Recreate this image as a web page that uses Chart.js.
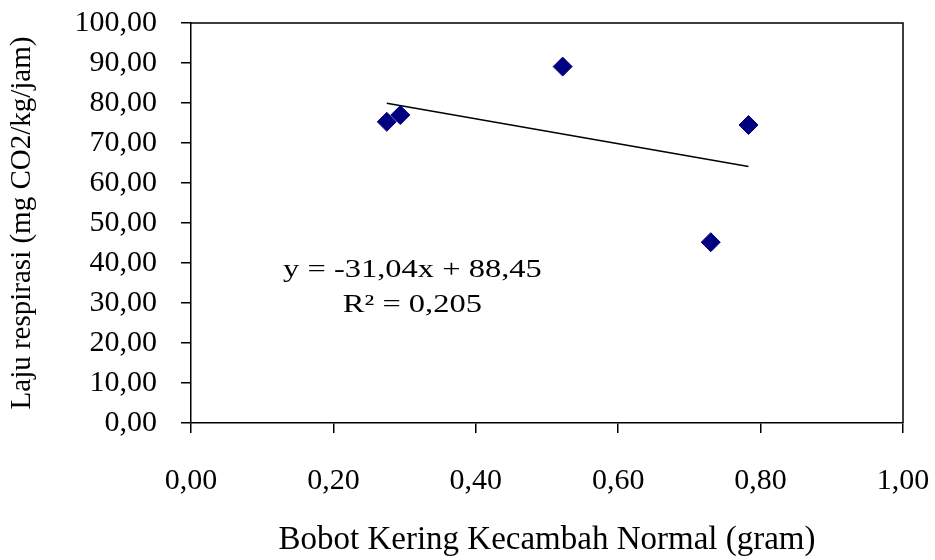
<!DOCTYPE html>
<html>
<head>
<meta charset="utf-8">
<script src="https://cdn.jsdelivr.net/npm/chart.js@4.4.0/dist/chart.umd.min.js"></script>
<style>
  html, body { margin: 0; padding: 0; background: #fff; }
</style>
</head>
<body>
<canvas id="scatterChart" width="935" height="560"></canvas>
<script>
// data
const bobotKering = [0.275, 0.294, 0.522, 0.730, 0.783];
const lajuRespirasi = [75.3, 77.0, 89.1, 45.2, 74.5];
const trendSlope = -31.04;
const trendIntercept = 88.45;
const equationText = ['y = -31,04x + 88,45', 'R\u00B2 = 0,205'];
const xTicks = [0, 0.2, 0.4, 0.6, 0.8, 1.0];
const yTicks = [0, 10, 20, 30, 40, 50, 60, 70, 80, 90, 100];

const fmt = v => v.toFixed(2).replace('.', ',');
const serif = "'Liberation Serif', 'Times New Roman', serif";

const minX = Math.min(...bobotKering);
const maxX = Math.max(...bobotKering);
const trendPoints = [minX, maxX].map(x => ({x: x, y: trendSlope * x + trendIntercept}));

// plot area border + trend equation
const boxPlugin = {
    id: 'boxPlugin',
    afterDraw(chart) {
        const {ctx, chartArea: a, scales} = chart;
        ctx.save();
        ctx.strokeStyle = '#000';
        ctx.lineWidth = 1.5;
        ctx.beginPath();
        ctx.moveTo(a.left, a.top);
        ctx.lineTo(a.right, a.top);
        ctx.lineTo(a.right, a.bottom);
        ctx.stroke();

        // the equation text in the original is wide, so stretch it a bit
        ctx.fillStyle = '#000';
        ctx.font = "25px " + serif;
        ctx.textAlign = 'center';
        ctx.textBaseline = 'middle';
        const cx = scales.x.getPixelForValue(0.311);
        const stretch = 1.3;
        [38.2, 29.3].forEach((v, i) => {
            ctx.save();
            ctx.translate(cx, scales.y.getPixelForValue(v));
            ctx.scale(stretch, 1);
            ctx.fillText(equationText[i], 0, 0);
            ctx.restore();
        });
        ctx.restore();
    }
};

new Chart(document.getElementById('scatterChart'), {
    type: 'scatter',
    data: {
        datasets: [{
            label: 'Laju respirasi',
            data: bobotKering.map((x, i) => ({x: x, y: lajuRespirasi[i]})),
            pointStyle: 'rectRot',
            pointRadius: 9.5,
            pointBackgroundColor: '#000080',
            pointBorderColor: '#000080',
            pointBorderWidth: 1,
            order: 1
        }, {
            type: 'line',
            label: 'Linear',
            data: trendPoints,
            borderColor: '#000',
            borderWidth: 1.5,
            pointRadius: 0,
            fill: false,
            order: 2
        }]
    },
    options: {
        responsive: false,
        animation: false,
        devicePixelRatio: 1,
        layout: { padding: { left: 0, right: 32, top: 23, bottom: 0 } },
        plugins: { legend: { display: false }, tooltip: { enabled: false } },
        scales: {
            x: {
                type: 'linear',
                min: 0, max: 1,
                afterFit: s => { s.height = 137; s.paddingLeft = 0; s.paddingRight = 0; },
                afterBuildTicks: s => { s.ticks = xTicks.map(v => ({value: v})); },
                grid: { drawOnChartArea: false, tickLength: 10, color: '#000', lineWidth: 1.5 },
                border: { color: '#000', width: 1.5 },
                ticks: { color: '#000', padding: 30, font: { family: serif, size: 30 }, callback: v => fmt(v), maxRotation: 0 },
                title: { display: true, text: 'Bobot Kering Kecambah Normal (gram)', color: '#000', font: { family: serif, size: 33 }, padding: { top: 0, bottom: 0 } }
            },
            y: {
                min: 0, max: 100,
                afterFit: s => { s.width = 191; s.paddingTop = 0; s.paddingBottom = 0; },
                afterBuildTicks: s => { s.ticks = yTicks.map(v => ({value: v})); },
                grid: { drawOnChartArea: false, tickLength: 10, color: '#000', lineWidth: 1.5 },
                border: { color: '#000', width: 1.5 },
                ticks: { color: '#000', padding: 24, font: { family: serif, size: 30 }, callback: v => fmt(v) },
                title: { display: true, text: 'Laju respirasi (mg CO2/kg/jam)', color: '#000', font: { family: serif, size: 29 }, padding: { top: 5, bottom: 0 } }
            }
        }
    },
    plugins: [boxPlugin]
});
</script>
</body>
</html>
